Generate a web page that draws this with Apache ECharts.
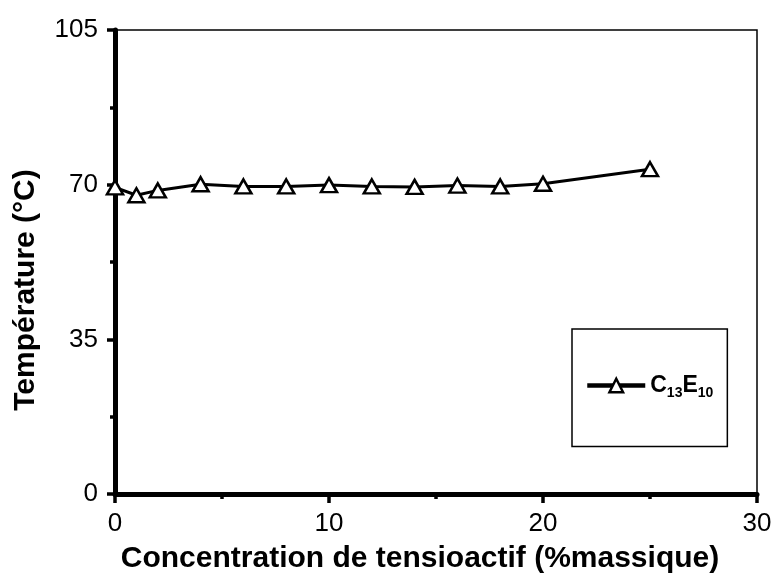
<!DOCTYPE html>
<html>
<head>
<meta charset="utf-8">
<script src="https://cdn.jsdelivr.net/npm/echarts@6/dist/echarts.min.js"></script>
<style>html,body{margin:0;padding:0;background:#fff;}#chart{width:776px;height:579px;}</style>
</head>
<body>
<div id="chart"></div>
<script>
const concentration = [0, 1, 2, 4, 6, 8, 10, 12, 14, 16, 18, 20, 25];
const temperature = [69.4, 67.6, 68.7, 70.1, 69.6, 69.6, 69.9, 69.6, 69.5, 69.8, 69.6, 70.2, 73.5];
const seriesName = 'C13E10';
const xTitle = 'Concentration de tensioactif (%massique)';
const yTitle = 'Température (°C)';

const points = concentration.map((c, i) => [c, temperature[i]]);
const chart = echarts.init(document.getElementById('chart'));
chart.setOption({
  animation: false,
  backgroundColor: '#fff',
  grid: { left: 115, right: 19, top: 30, bottom: 79, show: true, borderColor: '#000', borderWidth: 1.5, backgroundColor: 'transparent' },
  legend: {
    left: 572, top: 329,
    padding: [45, 14, 46, 13],
    borderColor: '#000', borderWidth: 1.5,
    itemWidth: 58, itemHeight: 17, itemGap: 5,
    data: [seriesName],
    lineStyle: { width: 4.5, color: '#000' },
    itemStyle: { color: '#fff', borderColor: '#000', borderWidth: 2.5 },
    formatter: () => '{c|C}{s|13}{c|E}{s|10}',
    textStyle: {
      rich: {
        c: { fontFamily: 'Liberation Sans, Arial', fontWeight: 'bold', fontSize: 23, color: '#000', lineHeight: 30, verticalAlign: 'middle' },
        s: { fontFamily: 'Liberation Sans, Arial', fontWeight: 'bold', fontSize: 14, color: '#000', lineHeight: 30, verticalAlign: 'bottom' }
      }
    }
  },
  xAxis: {
    type: 'value', min: 0, max: 30, interval: 10,
    name: xTitle, nameLocation: 'middle', nameGap: 50,
    nameTextStyle: { fontFamily: 'Liberation Sans, Arial', fontWeight: 'bold', fontSize: 30, color: '#000', padding: [0, 32, 0, 0] },
    axisLine: { show: true, onZero: false, lineStyle: { color: '#000', width: 5 } },
    axisTick: { show: true, length: 9, lineStyle: { color: '#000', width: 3.5 } },
    minorTick: { show: true, splitNumber: 2, length: 5, lineStyle: { color: '#000', width: 3.5 } },
    splitLine: { show: false },
    axisLabel: { margin: 17, fontFamily: 'Liberation Sans Narrow, Liberation Sans, Arial', fontSize: 26, color: '#000' }
  },
  yAxis: {
    type: 'value', min: 0, max: 105, interval: 35,
    name: yTitle, nameLocation: 'middle', nameGap: 74, nameRotate: 90,
    nameTextStyle: { fontFamily: 'Liberation Sans, Arial', fontWeight: 'bold', fontSize: 30, color: '#000', padding: [0, 56, 0, 0] },
    axisLine: { show: true, onZero: false, lineStyle: { color: '#000', width: 5 } },
    axisTick: { show: true, length: 8, lineStyle: { color: '#000', width: 3.5 } },
    minorTick: { show: true, splitNumber: 2, length: 5, lineStyle: { color: '#000', width: 3.5 } },
    splitLine: { show: false },
    axisLabel: { margin: 17, fontFamily: 'Liberation Sans, Arial', fontSize: 26, color: '#000' }
  },
  series: [{
    name: seriesName, type: 'line', data: points,
    symbol: 'triangle', symbolSize: [16, 14], showAllSymbol: true,
    lineStyle: { color: '#000', width: 3 },
    itemStyle: { color: '#fff', borderColor: '#000', borderWidth: 2.5 },
    z: 3
  }]
});
</script>
</body>
</html>
